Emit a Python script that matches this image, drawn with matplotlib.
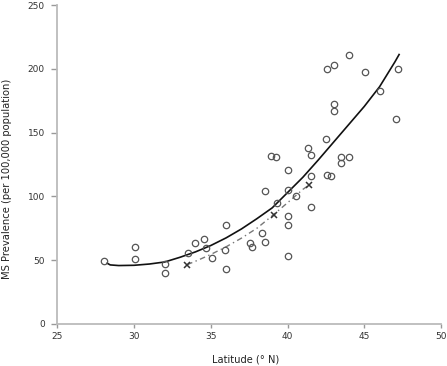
import matplotlib
matplotlib.use("Agg")
import matplotlib.pyplot as plt

# observed data (circles)
lat = [28.05, 30.06, 30.06, 32.0, 32.0, 33.5, 34.0, 34.55, 34.7, 35.05,
       36.0, 35.95, 36.0, 37.55, 37.7, 38.35, 38.52, 38.52, 38.9, 39.28,
       39.3, 40.02, 40.02, 40.02, 40.02, 40.02, 40.54, 41.32, 41.5, 41.52,
       41.52, 42.5, 42.58, 42.86, 42.54, 43.0, 43.0, 43.0, 43.5, 43.5,
       44.0, 44.0, 45.03, 46.0, 47.05, 47.2]
prev = [49.2, 60.1, 51.0, 47.0, 40.2, 55.4, 63.2, 66.4, 59.9, 51.4,
        77.4, 58.3, 43.1, 63.4, 60.1, 71.6, 64.5, 104.3, 131.9, 131.1,
        94.6, 120.4, 105.3, 84.3, 77.4, 53.4, 100.3, 137.7, 132.4, 116.0,
        91.6, 144.7, 117.0, 115.6, 200.1, 203.2, 172.4, 167.2, 130.6, 126.2,
        130.8, 211.1, 197.5, 182.6, 160.9, 200.1]

# group estimates (x markers)
x_lat = [33.46, 39.1, 41.4]
x_prev = [46.5, 85.8, 108.9]

# solid fitted curve
fit_lat = [28.25, 28.45, 29.0, 30.0, 31.0, 32.0, 33.0, 34.0, 35.0, 36.0,
           37.0, 38.0, 39.0, 40.0, 41.0, 42.0, 43.0, 44.0, 45.0, 46.0,
           47.0, 47.27]
fit_prev = [47.6, 46.3, 45.8, 46.0, 47.0, 48.6, 52.3, 56.5, 61.5, 67.5,
            74.5, 82.5, 91.0, 103.0, 115.0, 128.5, 142.5, 156.5, 170.5, 186.0,
            205.5, 211.2]

# dash-dot curve through group estimates
dash_lat = [33.46, 34.2, 35.0, 36.0, 37.0, 38.0, 39.0, 40.0, 41.0, 41.4]
dash_prev = [46.5, 50.2, 54.5, 60.5, 67.3, 75.0, 84.8, 95.0, 105.5, 108.9]

xticks = [25, 30, 35, 40, 45, 50]
yticks = [0, 50, 100, 150, 200, 250]

fig = plt.figure(figsize=(4.47, 3.66), dpi=100)
ax = fig.add_axes([0.1282, 0.1148, 0.8584, 0.8715])

ax.plot(dash_lat, dash_prev, color="#777777", lw=1.0, linestyle=(0, (4, 2.5, 1, 2.5)), zorder=2)
ax.plot(fit_lat, fit_prev, color="#111111", lw=1.2, zorder=3)
ax.plot(lat, prev, linestyle="none", marker="o", markersize=4.6, markerfacecolor="none",
        markeredgecolor="#555555", markeredgewidth=0.9, zorder=4)
ax.plot(x_lat, x_prev, linestyle="none", marker="x", markersize=5, color="#333333",
        markeredgewidth=1.1, zorder=5)

ax.set_xlim(25, 50)
ax.set_ylim(0, 250)
ax.set_xticks(xticks)
ax.set_yticks(yticks)

for s in ["top", "right"]:
    ax.spines[s].set_visible(False)
for s in ["left", "bottom"]:
    ax.spines[s].set_color("#bbbbbb")
    ax.spines[s].set_linewidth(1.3)

ax.tick_params(axis="x", direction="out", length=3, width=1, color="#999999",
               labelsize=6.5, labelcolor="#333333", pad=3)
ax.tick_params(axis="y", direction="out", length=4, width=1, color="#999999",
               labelsize=6.5, labelcolor="#333333", pad=5)

ax.set_xlabel("Latitude (\u00b0 N)", fontsize=7.1, color="#222222")
ax.set_ylabel("MS Prevalence (per 100,000 population)", fontsize=7.2, color="#222222")
ax.xaxis.set_label_coords(0.49, -0.095)
ax.yaxis.set_label_coords(-0.118, 0.455)

fig.savefig("out.png", dpi=100)
